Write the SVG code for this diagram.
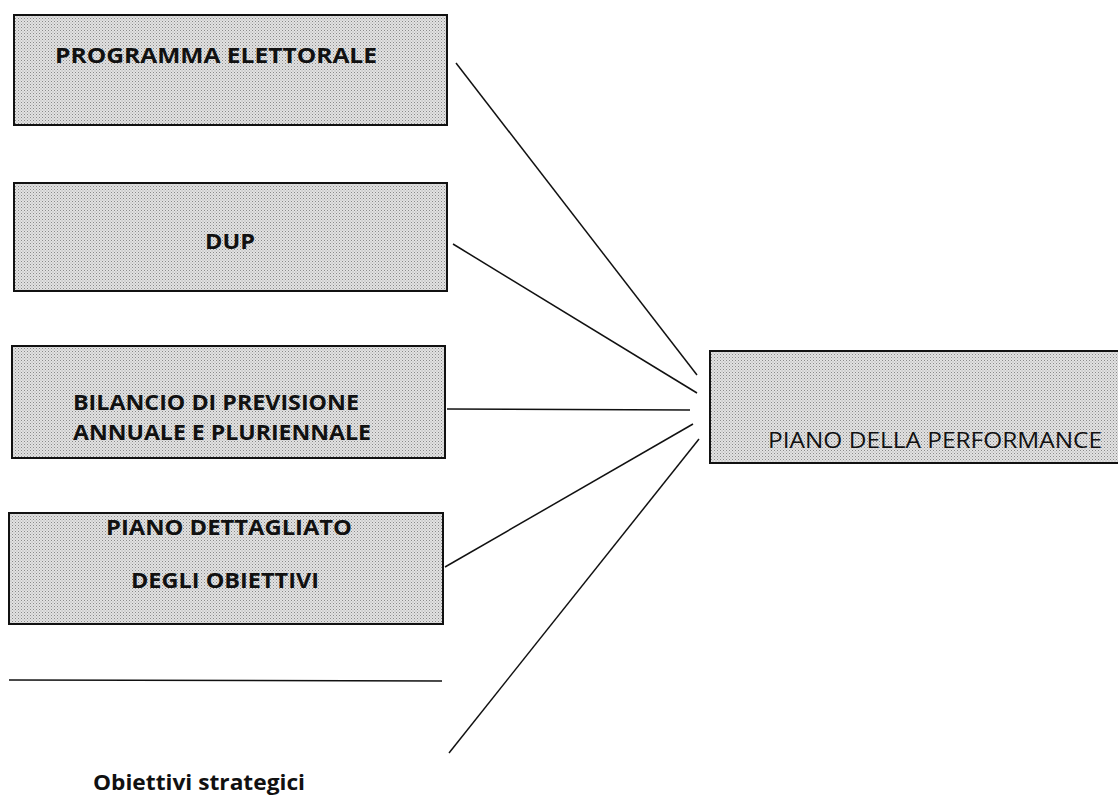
<svg xmlns="http://www.w3.org/2000/svg" width="1118" height="796" viewBox="0 0 1118 796">
<defs>
<pattern id="dots" width="3" height="3" patternUnits="userSpaceOnUse">
<rect width="3" height="3" fill="#e2e2e2"/>
<rect width="1" height="1" fill="#8a8a8a"/>
<rect x="1.5" y="1.5" width="1" height="1" fill="#a8a8a8"/>
</pattern>
</defs>
<style>
.box{fill:url(#dots);stroke:#111;stroke-width:2}
.t{font-family:"Open Sans","Liberation Sans",sans-serif;font-weight:700;font-size:21px;fill:#111}
.tr{font-family:"Open Sans","Liberation Sans",sans-serif;font-weight:400;font-size:22px;fill:#111}
.c{stroke:#111;stroke-width:1.5;fill:none}
</style>
<rect width="1118" height="796" fill="#ffffff"/>
<g id="programma">
<rect class="box" x="14" y="15" width="433" height="110"/>
<text class="t" x="55" y="63" textLength="322" lengthAdjust="spacingAndGlyphs">PROGRAMMA  ELETTORALE</text>
</g>
<g id="dup">
<rect class="box" x="14" y="183" width="433" height="108"/>
<text class="t" x="205" y="249" textLength="50" lengthAdjust="spacingAndGlyphs">DUP</text>
</g>
<g id="bilancio">
<rect class="box" x="12" y="346" width="433" height="112"/>
<text class="t" x="73" y="410" textLength="286" lengthAdjust="spacingAndGlyphs">BILANCIO DI PREVISIONE</text>
<text class="t" x="73" y="440" textLength="298" lengthAdjust="spacingAndGlyphs">ANNUALE E PLURIENNALE</text>
</g>
<g id="piano-dettagliato">
<rect class="box" x="9" y="513" width="434" height="111"/>
<text class="t" x="106" y="535" textLength="246" lengthAdjust="spacingAndGlyphs">PIANO DETTAGLIATO</text>
<text class="t" x="131" y="588" textLength="188" lengthAdjust="spacingAndGlyphs">DEGLI OBIETTIVI</text>
</g>
<g id="piano-performance">
<rect class="box" x="710" y="351" width="420" height="112"/>
<text class="tr" x="768" y="448" textLength="334" lengthAdjust="spacingAndGlyphs">PIANO DELLA PERFORMANCE</text>
</g>
<g id="obiettivi">
<line class="c" x1="9" y1="680" x2="442" y2="681"/>
<text class="t" x="93" y="790" font-size="23" font-weight="600" textLength="212" lengthAdjust="spacingAndGlyphs">Obiettivi strategici</text>
</g>
<g id="connectors">
<line class="c" x1="456" y1="63" x2="697" y2="375"/>
<line class="c" x1="453" y1="244" x2="697" y2="393"/>
<line class="c" x1="447" y1="409" x2="690" y2="410"/>
<line class="c" x1="445" y1="567" x2="693" y2="424"/>
<line class="c" x1="449" y1="753" x2="699" y2="439"/>
</g>
</svg>
